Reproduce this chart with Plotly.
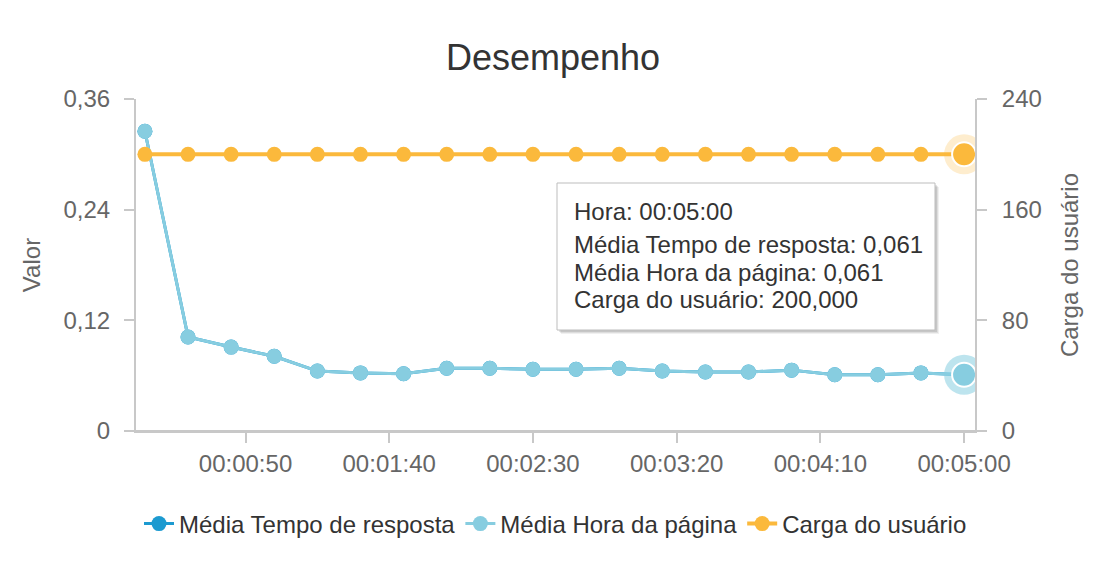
import plotly.graph_objects as go

seconds = [15, 30, 45, 60, 75, 90, 105, 120, 135, 150, 165, 180, 195, 210, 225, 240, 255, 270, 285, 300]
tempo_resposta = [0.325, 0.102, 0.091, 0.081, 0.065, 0.063, 0.062, 0.068, 0.068, 0.067,
                  0.067, 0.068, 0.065, 0.064, 0.064, 0.066, 0.061, 0.061, 0.063, 0.061]
hora_pagina = list(tempo_resposta)
carga_usuario = [200] * 20

x_tickvals = [50, 100, 150, 200, 250, 300]
x_ticktext = ["00:00:50", "00:01:40", "00:02:30", "00:03:20", "00:04:10", "00:05:00"]
y_tickvals = [0, 0.12, 0.24, 0.36]
y_ticktext = ["0", "0,12", "0,24", "0,36"]
y2_tickvals = [0, 80, 160, 240]

FONT = "Liberation Sans, Arial, sans-serif"
C_DARK = "#1c9ad0"
C_LIGHT = "#87cde0"
C_ORANGE = "#fbb93c"
GRID = "#c8c8c8"
TICKC = "#666666"
FS = 24

W, H = 1106, 566
L, R, T, B = 136, 131, 99, 135
PW, PH = W - L - R, H - T - B


def px(xp):
    return (xp - L) / PW


def py(yp):
    return (H - B - yp) / PH


fig = go.Figure()
fig.add_trace(go.Scatter(x=seconds, y=tempo_resposta, name="Média Tempo de resposta",
                         mode="lines+markers", line=dict(color=C_DARK, width=3),
                         marker=dict(size=15, color=C_DARK), yaxis="y"))
fig.add_trace(go.Scatter(x=seconds, y=hora_pagina, name="Média Hora da página",
                         mode="lines+markers", line=dict(color=C_LIGHT, width=3),
                         marker=dict(size=15, color=C_LIGHT), yaxis="y"))
fig.add_trace(go.Scatter(x=seconds, y=carga_usuario, name="Carga do usuário",
                         mode="lines+markers", line=dict(color=C_ORANGE, width=4),
                         marker=dict(size=15, color=C_ORANGE), yaxis="y2"))

# hover halos on the last points
fig.add_trace(go.Scatter(x=[seconds[-1]], y=[hora_pagina[-1]], mode="markers", showlegend=False,
                         marker=dict(size=40, color=C_LIGHT, opacity=0.55), yaxis="y", hoverinfo="skip"))
fig.add_trace(go.Scatter(x=[seconds[-1]], y=[hora_pagina[-1]], mode="markers", showlegend=False,
                         marker=dict(size=24, color=C_LIGHT, line=dict(color="white", width=2)),
                         yaxis="y", hoverinfo="skip"))
fig.add_trace(go.Scatter(x=[seconds[-1]], y=[carga_usuario[-1]], mode="markers", showlegend=False,
                         marker=dict(size=40, color=C_ORANGE, opacity=0.25), yaxis="y2", hoverinfo="skip"))
fig.add_trace(go.Scatter(x=[seconds[-1]], y=[carga_usuario[-1]], mode="markers", showlegend=False,
                         marker=dict(size=24, color=C_ORANGE, line=dict(color="white", width=2)),
                         yaxis="y2", hoverinfo="skip"))


def br(v, d=3):
    s = f"{v:,.{d}f}"
    return s.replace(",", "X").replace(".", ",").replace("X", ".")


tip_lines = [
    "Hora: 00:05:00",
    f"Média Tempo de resposta: {br(tempo_resposta[-1])}",
    f"Média Hora da página: {br(hora_pagina[-1])}",
    f"Carga do usuário: {br(carga_usuario[-1])}",
]
tip_y = [211, 244, 272, 299]

axis_common = dict(showgrid=False, zeroline=False, showline=True, linecolor=GRID, linewidth=2,
                   ticks="outside", ticklen=10, tickcolor=GRID, tickwidth=2,
                   tickfont=dict(family=FONT, size=FS, color=TICKC), automargin=False)

fig.update_layout(
    width=W, height=H,
    margin=dict(l=L, r=R, t=T, b=B),
    paper_bgcolor="white", plot_bgcolor="white",
    separators=",.",
    font=dict(family=FONT, size=FS, color=TICKC),
    title=dict(text="Desempenho", x=0.5, xanchor="center", y=1 - 57 / H, yanchor="middle",
               font=dict(family=FONT, size=36, color="#333333")),
    xaxis=dict(range=[11.9, 303.8], tickvals=x_tickvals, ticktext=x_ticktext, **axis_common),
    yaxis=dict(range=[0, 0.36], tickvals=y_tickvals, ticktext=y_ticktext,
               title=dict(text="Valor", font=dict(family=FONT, size=FS, color=TICKC), standoff=16),
               ticklabelstandoff=9, **axis_common),
    yaxis2=dict(range=[0, 240], tickvals=y2_tickvals, overlaying="y", side="right",
                title=dict(text="Carga do usuário", font=dict(family=FONT, size=FS, color=TICKC), standoff=20),
                ticklabelstandoff=10, **axis_common),
    legend=dict(orientation="h", x=0.5, xanchor="center", y=py(524), yanchor="middle",
                font=dict(family=FONT, size=FS, color="#333333"), itemwidth=30),
    showlegend=True,
)

# extended baseline under the plot (axis line reaches the tick ends)
fig.add_shape(type="line", xref="paper", yref="paper", x0=px(126), x1=px(985), y0=0, y1=0,
              line=dict(color=GRID, width=2), layer="below")

# tooltip shadow and box
for off, a in [(4, 0.06), (3, 0.08), (2, 0.1)]:
    fig.add_shape(type="rect", xref="paper", yref="paper",
                  x0=px(557 + off), x1=px(935 + off), y0=py(330 + off), y1=py(183 + off),
                  fillcolor=f"rgba(0,0,0,{a})", line=dict(width=0), layer="above")
fig.add_shape(type="rect", xref="paper", yref="paper",
              x0=px(557), x1=px(935), y0=py(330), y1=py(183),
              fillcolor="white", line=dict(color="#bdbdbd", width=1), layer="above")
for txt, yy in zip(tip_lines, tip_y):
    fig.add_annotation(xref="paper", yref="paper", x=px(572), y=py(yy), xanchor="left",
                       yanchor="middle", showarrow=False, align="left", text=txt,
                       font=dict(family=FONT, size=FS, color="#333333"))

fig.write_html("out.html", config={"displayModeBar": False},
               post_script="document.body.style.margin='0px';")
